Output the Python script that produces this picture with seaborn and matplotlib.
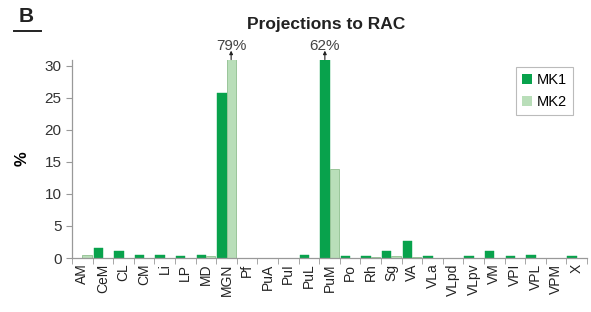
import numpy as np
import pandas as pd
import matplotlib.pyplot as plt
import seaborn as sns

# thalamic nuclei projecting to RAC (% of labelled cells)
regions = ['AM', 'CeM', 'CL', 'CM', 'Li', 'LP', 'MD', 'MGN', 'Pf', 'PuA', 'PuI',
           'PuL', 'PuM', 'Po', 'Rh', 'Sg', 'VA', 'VLa', 'VLpd', 'VLpv', 'VM',
           'VPI', 'VPL', 'VPM', 'X']
mk1 = [0.0, 1.6, 1.1, 0.5, 0.5, 0.3, 0.5, 25.8, 0.0, 0.0, 0.0,
       0.5, 62.0, 0.3, 0.3, 1.1, 2.7, 0.3, 0.0, 0.3, 1.1,
       0.3, 0.5, 0.0, 0.3]
mk2 = [0.5, 0.0, 0.0, 0.0, 0.0, 0.0, 0.3, 79.0, 0.0, 0.0, 0.0,
       0.0, 13.9, 0.0, 0.1, 0.3, 0.1, 0.0, 0.0, 0.0, 0.0,
       0.0, 0.0, 0.0, 0.0]
monkeys = ['MK1', 'MK2']
y_ticks = [0, 5, 10, 15, 20, 25, 30]
y_top = 31

df = pd.DataFrame({'region': regions * 2,
                   'pct': mk1 + mk2,
                   'monkey': [monkeys[0]] * len(regions) + [monkeys[1]] * len(regions)})

plt.rcParams['font.family'] = ['Liberation Sans', 'DejaVu Sans']
fig = plt.figure(figsize=(5.91, 3.12), dpi=100)
ax = fig.add_axes([72 / 591, 1 - 258 / 312, 515 / 591, (258 - 59.6) / 312])

palette = {'MK1': '#08a24c', 'MK2': '#b9deb9'}
sns.barplot(data=df, x='region', y='pct', hue='monkey', palette=palette,
            order=regions, hue_order=monkeys, width=0.9, saturation=1,
            ax=ax, legend=True)
# light bars get a thin darker outline like the original; empty bars stay invisible
edges = [('#08a24c', 0.3), ('#8fbf8f', 0.6)]
for cont, (ec, lw) in zip(ax.containers, edges):
    for bar in cont:
        bar.set_edgecolor(ec)
        bar.set_linewidth(lw if bar.get_height() > 0 else 0)

ax.set_xlim(-0.5, len(regions) - 0.5)
ax.set_ylim(0, y_top)
ax.set_yticks(y_ticks)
ax.tick_params(axis='y', labelsize=11, colors='#333333', length=4, color='#999999')
ax.tick_params(axis='x', which='major', labelsize=10, length=0, labelrotation=90,
               labelcolor='#222222', pad=4)
ax.set_xticks(np.arange(len(regions) + 1) - 0.5, minor=True)
ax.tick_params(axis='x', which='minor', length=4, color='#999999')
ax.set_xlabel('')
ax.set_ylabel('%', fontsize=12, fontweight='bold')
ax.yaxis.set_label_coords(-42 / 515, 0.5)
for s in ['top', 'right']:
    ax.spines[s].set_visible(False)
for s in ['left', 'bottom']:
    ax.spines[s].set_color('#999999')
    ax.spines[s].set_linewidth(0.9)

# off-scale bars: arrow up from the clipped bar to the true value
for cont, vals in zip(ax.containers, [mk1, mk2]):
    for bar, v in zip(cont, vals):
        if v > y_top:
            cx = bar.get_x() + bar.get_width() / 2
            ax.annotate('', xy=(cx, y_top + 1.4), xytext=(cx, y_top),
                        annotation_clip=False,
                        arrowprops=dict(arrowstyle='-|>', color='#222222', lw=0.8,
                                        mutation_scale=5, shrinkA=0, shrinkB=0))
            ax.text(cx, y_top + 1.0, f'{v:.0f}%', ha='center', va='bottom',
                    fontsize=11, color='#444444', clip_on=False)

leg = ax.legend(loc='upper right', bbox_to_anchor=(0.973, 0.963), fontsize=10.5,
                frameon=True, fancybox=False, edgecolor='#aaaaaa',
                handlelength=0.7, handleheight=0.7, handletextpad=0.35,
                labelspacing=0.55, borderpad=0.4, borderaxespad=0)
leg.get_frame().set_linewidth(0.8)

fig.text(326 / 591, 1 - 24 / 312, 'Projections to RAC', ha='center', va='center',
         fontsize=12.5, fontweight='bold', color='#222222')
fig.text(26 / 591, 1 - 17 / 312, 'B', ha='center', va='center', fontsize=15,
         fontweight='bold', color='#222222')
fig.add_artist(plt.Line2D([14 / 591, 41 / 591], [1 - 31 / 312, 1 - 31 / 312],
                          color='#222222', lw=1.4))

fig.savefig('out.png', dpi=100)
